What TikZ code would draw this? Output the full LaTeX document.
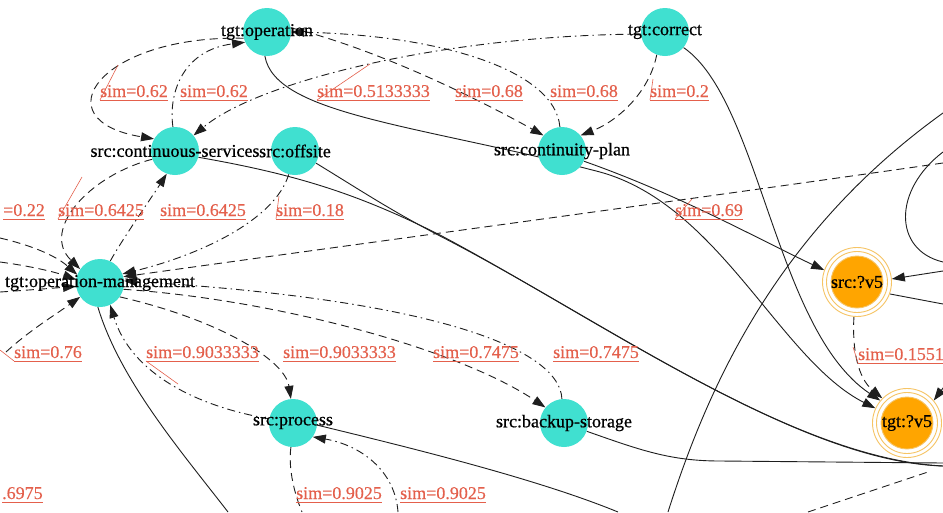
\documentclass[tikz,border=0pt]{standalone}
\usepackage{fontspec}
\setmainfont{Liberation Serif}
\newfontfamily\nodefont[FakeBold=0.7]{Liberation Serif}
\newfontfamily\labfont[FakeBold=0.3]{Liberation Serif}
\usetikzlibrary{arrows.meta}

\definecolor{turq}{RGB}{64,224,208}
\definecolor{orng}{RGB}{255,165,0}
\definecolor{ringc}{RGB}{246,196,100}
\definecolor{labred}{RGB}{228,96,76}
\definecolor{edgec}{RGB}{30,30,30}

\pgfdeclarelayer{bg}
\pgfdeclarelayer{edgelayer}
\pgfsetlayers{bg,edgelayer,main}

\tikzset{
  tnode/.style={circle, fill=turq, minimum size=48pt, inner sep=0pt},
  onode/.style={circle, draw=ringc, line width=0.9pt, minimum size=69pt, inner sep=0pt,
    path picture={
      \fill[orng] (path picture bounding box.center) circle[radius=26pt];
      \draw[ringc, line width=0.9pt] (path picture bounding box.center) circle[radius=26pt]
        (path picture bounding box.center) circle[radius=30.5pt];}},
  ntext/.style={font=\nodefont\fontsize{18}{20}\selectfont, text=black, inner sep=0pt},
  rel/.style={draw=edgec, line width=0.9pt},
  simdash/.style={rel, dash pattern=on 8pt off 5pt},
  simdot/.style={rel, dash pattern=on 8pt off 4pt on 1.5pt off 4pt},
  tip/.style={-{Triangle[length=13pt,width=9pt]}},
  uline/.style={draw=labred, line width=0.8pt},
  simlab/.style={text=labred, font=\labfont\fontsize{18}{20}\selectfont, inner sep=0pt, anchor=base west,
    append after command={\pgfextra{\let\labnode\tikzlastnode}
      ([yshift=-3pt]\labnode.base west) edge[uline] ([yshift=-3pt]\labnode.base east)}},
  leader/.style={draw=labred, line width=0.6pt},
}

\begin{document}
\begin{tikzpicture}[x=1pt, y=-1pt]
\useasboundingbox (0,0) rectangle (943,512);
\begin{pgfonlayer}{bg}
  \fill[white] (0,0) rectangle (943,512);
\end{pgfonlayer}

% ---- concept nodes ----
\node[tnode, label={[ntext]center:{tgt:operation}}] (op) at (267,32) {};
\node[tnode, label={[ntext]center:{tgt:correct}}] (cor) at (665,32) {};
\node[tnode, label={[ntext]center:{src:continuous-services}}] (cs) at (175,151) {};
\node[tnode, label={[ntext]center:{src:offsite}}] (off) at (295,151) {};
\node[tnode, label={[ntext]center:{src:continuity-plan}}] (cp) at (562,151) {};
\node[tnode, label={[ntext]center:{tgt:operation-management}}] (om) at (100,283) {};
\node[tnode, label={[ntext]center:{src:process}}] (pr) at (293,423) {};
\node[tnode, label={[ntext]center:{src:backup-storage}}] (bs) at (564,423) {};
\node[onode, label={[ntext]center:{src:?v5}}] (sv) at (857,282) {};
\node[onode, label={[ntext]center:{tgt:?v5}}] (tv) at (907,423) {};

% ---- loose ends at the border ----
\coordinate (R1) at (943,163);
\coordinate (R2) at (943,113);
\coordinate (R3) at (943,271);
\coordinate (R4) at (943,304);
\coordinate (R5) at (955,372);
\coordinate (R6) at (943,463);
\coordinate (R7) at (943,466);
\coordinate (R8) at (943,152);
\coordinate (R9) at (943,262);
\coordinate (R10) at (928,472);
\coordinate (B1) at (228,512);
\coordinate (B2) at (302,512);
\coordinate (B3) at (398,512);
\coordinate (B4) at (618,512);
\coordinate (B5) at (668,512);
\coordinate (B6) at (808,512);
\coordinate (L1) at (0,238);
\coordinate (L2) at (0,262);
\coordinate (L3) at (0,292);
\coordinate (L4) at (6,352);

% ---- edges ----
\begin{pgfonlayer}{edgelayer}
% similarity links
\draw[simdash, tip] (op.195) .. controls (100,35) and (40,120) .. (cs.150);
\draw[simdot, tip] (cs.95) .. controls (168,90) and (185,50) .. (op.205);
\draw[simdot, tip] (cor.185) .. controls (450,35) and (260,80) .. (cs.40);
\draw[simdash, tip] (op.10) .. controls (380,50) and (480,100) .. (cp.140);
\draw[simdot, tip] (cp.95) .. controls (555,70) and (440,35) .. (op.0);
\draw[simdash, tip] (cor.250) .. controls (650,90) and (620,120) .. (cp.40);
\draw[simdash, tip] (R1) .. controls (650,205) and (350,245) .. (om.15);
\draw[simdash, tip] (cs.200) .. controls (90,175) and (40,230) .. (om.145);
\draw[simdot, tip] (om.65) .. controls (125,235) and (150,200) .. (cs.250);
\draw[simdot, tip] (off.255) .. controls (275,220) and (200,255) .. (om.22);
\draw[simdash, tip] (om.-35) .. controls (220,320) and (285,360) .. (pr.95);
\draw[simdot, tip] (pr.170) .. controls (190,405) and (130,370) .. (om.-65);
\draw[simdash, tip] (om.-15) .. controls (280,300) and (460,350) .. (bs.140);
\draw[simdot, tip] (bs.95) .. controls (560,350) and (440,300) .. (om.5);
\draw[simdash] (pr.-95) .. controls (288,470) and (295,495) .. (B2);
\draw[simdot, tip] (B3) .. controls (395,470) and (360,445) .. (pr.-35);
\draw[simdash, tip] (sv.-95) .. controls (852,350) and (858,378) .. (tv.135);
\draw[simdash] (B6) -- (R10);
\draw[simdash, tip] (L1) .. controls (30,245) and (55,255) .. (om.160);
\draw[simdash, tip] (L2) .. controls (30,266) and (55,272) .. (om.172);
\draw[simdash, tip] (L3) .. controls (30,290) and (55,288) .. (om.188);
\draw[simdash, tip] (L4) .. controls (30,330) and (55,315) .. (om.215);
% relation links
\draw[rel, tip] (cor.-40) .. controls (760,100) and (775,330) .. (tv.140);
\draw[rel, tip] (op.265) .. controls (275,115) and (420,125) .. (600,172)
  .. controls (720,205) and (780,360) .. (tv.155);
\draw[rel, tip] (cp.-25) .. controls (680,195) and (760,240) .. (sv.160);
\draw[rel] (om.-95) .. controls (120,380) and (180,450) .. (B1);
\draw[rel] (pr.-5) .. controls (420,450) and (540,480) .. (B4);
\draw[rel] (bs.-20) .. controls (640,450) and (670,461) .. (720,461) -- (R6);
\draw[rel] (cs.-15) .. controls (300,175) and (360,195) .. (440,235)
  .. controls (600,320) and (800,462) .. (R7);
\draw[rel] (off.-30) .. controls (360,190) and (390,210) .. (440,236)
  .. controls (600,318) and (790,458) .. (R7);
\draw[rel] (B5) .. controls (710,380) and (780,230) .. (R2);
\draw[rel] (R8) .. controls (893,190) and (893,250) .. (R9);
\draw[rel, tip] (R3) -- (sv.5);
\draw[rel] (sv.-20) -- (R4);
\draw[rel, tip] (R5) -- (tv.40);
\end{pgfonlayer}

% ---- similarity labels ----
\node[simlab] (s1) at (100,97) {sim=0.62};
\node[simlab] (s2) at (180,97) {sim=0.62};
\node[simlab] (s3) at (317,97) {sim=0.5133333};
\node[simlab] (s4) at (455,97) {sim=0.68};
\node[simlab] (s5) at (550,97) {sim=0.68};
\node[simlab] (s6) at (650,97) {sim=0.2};
\node[simlab] (s7) at (3,216) {=0.22};
\node[simlab] (s8) at (58,216) {sim=0.6425};
\node[simlab] (s9) at (160,216) {sim=0.6425};
\node[simlab] (s10) at (276,216) {sim=0.18};
\node[simlab] (s11) at (675,216) {sim=0.69};
\node[simlab] (s12) at (14,358) {sim=0.76};
\node[simlab] (s13) at (146,358) {sim=0.9033333};
\node[simlab] (s14) at (283,358) {sim=0.9033333};
\node[simlab] (s15) at (433,358) {sim=0.7475};
\node[simlab] (s16) at (553,358) {sim=0.7475};
\node[simlab] (s17) at (858,360) {sim=0.1551};
\node[simlab] (s18) at (2,499) {.6975};
\node[simlab] (s19) at (296,499) {sim=0.9025};
\node[simlab] (s20) at (400,499) {sim=0.9025};

% ---- leader lines from labels to their edges ----
\coordinate (k1) at (118,65);
\coordinate (k3) at (370,64);
\coordinate (k6) at (653,79);
\coordinate (k8) at (82,177);
\coordinate (k10) at (279,196);
\coordinate (k11) at (692,199);
\coordinate (k12) at (0,350);
\coordinate (k13) at (178,384);
\coordinate (k17) at (853,347);
\draw[leader] ([yshift=-3pt]s1.base west) -- (k1);
\draw[leader] ([yshift=-3pt]s3.base west) -- (k3);
\draw[leader] ([yshift=-3pt]s6.base west) -- (k6);
\draw[leader] ([yshift=-3pt]s8.base west) -- (k8);
\draw[leader] ([yshift=-3pt]s10.base west) -- (k10);
\draw[leader] ([yshift=-3pt]s11.base west) -- (k11);
\draw[leader] ([yshift=-3pt]s12.base west) -- (k12);
\draw[leader] ([yshift=-3pt]s13.base west) -- (k13);
\draw[leader] ([yshift=-3pt]s17.base west) -- (k17);
\end{tikzpicture}
\end{document}
